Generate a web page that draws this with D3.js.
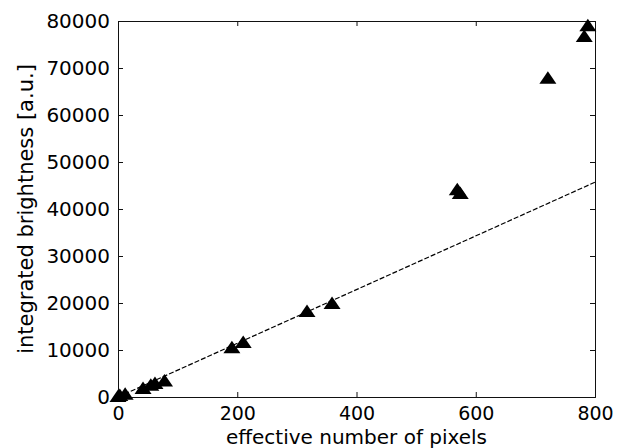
<!DOCTYPE html>
<html>
<head>
<meta charset="utf-8">
<script src="https://cdn.jsdelivr.net/npm/d3@7"></script>
<style>
  body { margin: 0; background: #fff; }
  text { font-family: "DejaVu Sans", sans-serif; fill: #000; }
</style>
</head>
<body>
<div id="chart"></div>
<script>
var width = 623,
    height = 448;

// measured data
var pixels     = [0, 3, 12, 42, 55, 62, 78, 191, 210, 317, 359, 569, 574, 721, 782, 788];
var brightness = [200, 400, 700, 1900, 2600, 3000, 3500, 10600, 11700, 18300, 20000, 44200, 43400, 67900, 76800, 79100];

// linear fit (dashed)
var fitX = [0, 800];
var fitY = [0, 45700];

var xTicks = [0, 200, 400, 600, 800];
var yTicks = [0, 10000, 20000, 30000, 40000, 50000, 60000, 70000, 80000];

var margin = {left: 118, right: 28, top: 21, bottom: 51};
var x0 = margin.left, x1 = width - margin.right,
    y0 = height - margin.bottom, y1 = margin.top;

var x = d3.scaleLinear().domain([0, 800]).range([x0, x1]);
var y = d3.scaleLinear().domain([0, 80000]).range([y0, y1]);

var svg = d3.select('#chart').append('svg')
  .attr('width', width)
  .attr('height', height);

// axes (inside ticks, box)
var tickLen = 5;
svg.append('g')
  .attr('transform', 'translate(0,' + y0 + ')')
  .call(d3.axisBottom(x).tickValues(xTicks).tickSize(-tickLen).tickPadding(10).tickFormat(d3.format('d')))
  .call(function(g) { g.selectAll('text').attr('font-size', 19).attr('dy', '0.71em'); });
svg.append('g')
  .attr('transform', 'translate(0,' + y1 + ')')
  .call(d3.axisTop(x).tickValues(xTicks).tickSize(-tickLen).tickFormat(''));
svg.append('g')
  .attr('transform', 'translate(' + x0 + ',0)')
  .call(d3.axisLeft(y).tickValues(yTicks).tickSize(-tickLen).tickPadding(8).tickFormat(d3.format('d')))
  .call(function(g) { g.selectAll('text').attr('font-size', 20); });
svg.append('g')
  .attr('transform', 'translate(' + x1 + ',0)')
  .call(d3.axisRight(y).tickValues(yTicks).tickSize(-tickLen).tickFormat(''));

svg.selectAll('.domain').attr('stroke', '#111');
svg.selectAll('.tick line').attr('stroke', '#111');

// fit line
svg.append('path')
  .datum(d3.zip(fitX, fitY))
  .attr('d', d3.line().x(function(d) { return x(d[0]); }).y(function(d) { return y(d[1]); }))
  .attr('fill', 'none')
  .attr('stroke', '#000')
  .attr('stroke-width', 1.2)
  .attr('stroke-dasharray', '5,2');

// triangles
svg.selectAll('path.pt')
  .data(d3.zip(pixels, brightness))
  .enter().append('path')
  .attr('class', 'pt')
  .attr('transform', function(d) { return 'translate(' + x(d[0]) + ',' + y(d[1]) + ')'; })
  .attr('d', 'M0,-6.5L8.5,6L-8.5,6Z')
  .attr('fill', '#000');

// labels
svg.append('text')
  .attr('x', (x0 + x1) / 2)
  .attr('y', 444)
  .attr('text-anchor', 'middle')
  .attr('font-size', 20)
  .text('effective number of pixels');

svg.append('text')
  .attr('transform', 'translate(33,' + ((y0 + y1) / 2) + ') rotate(-90)')
  .attr('text-anchor', 'middle')
  .attr('font-size', 21)
  .text('integrated brightness [a.u.]');
</script>
</body>
</html>
